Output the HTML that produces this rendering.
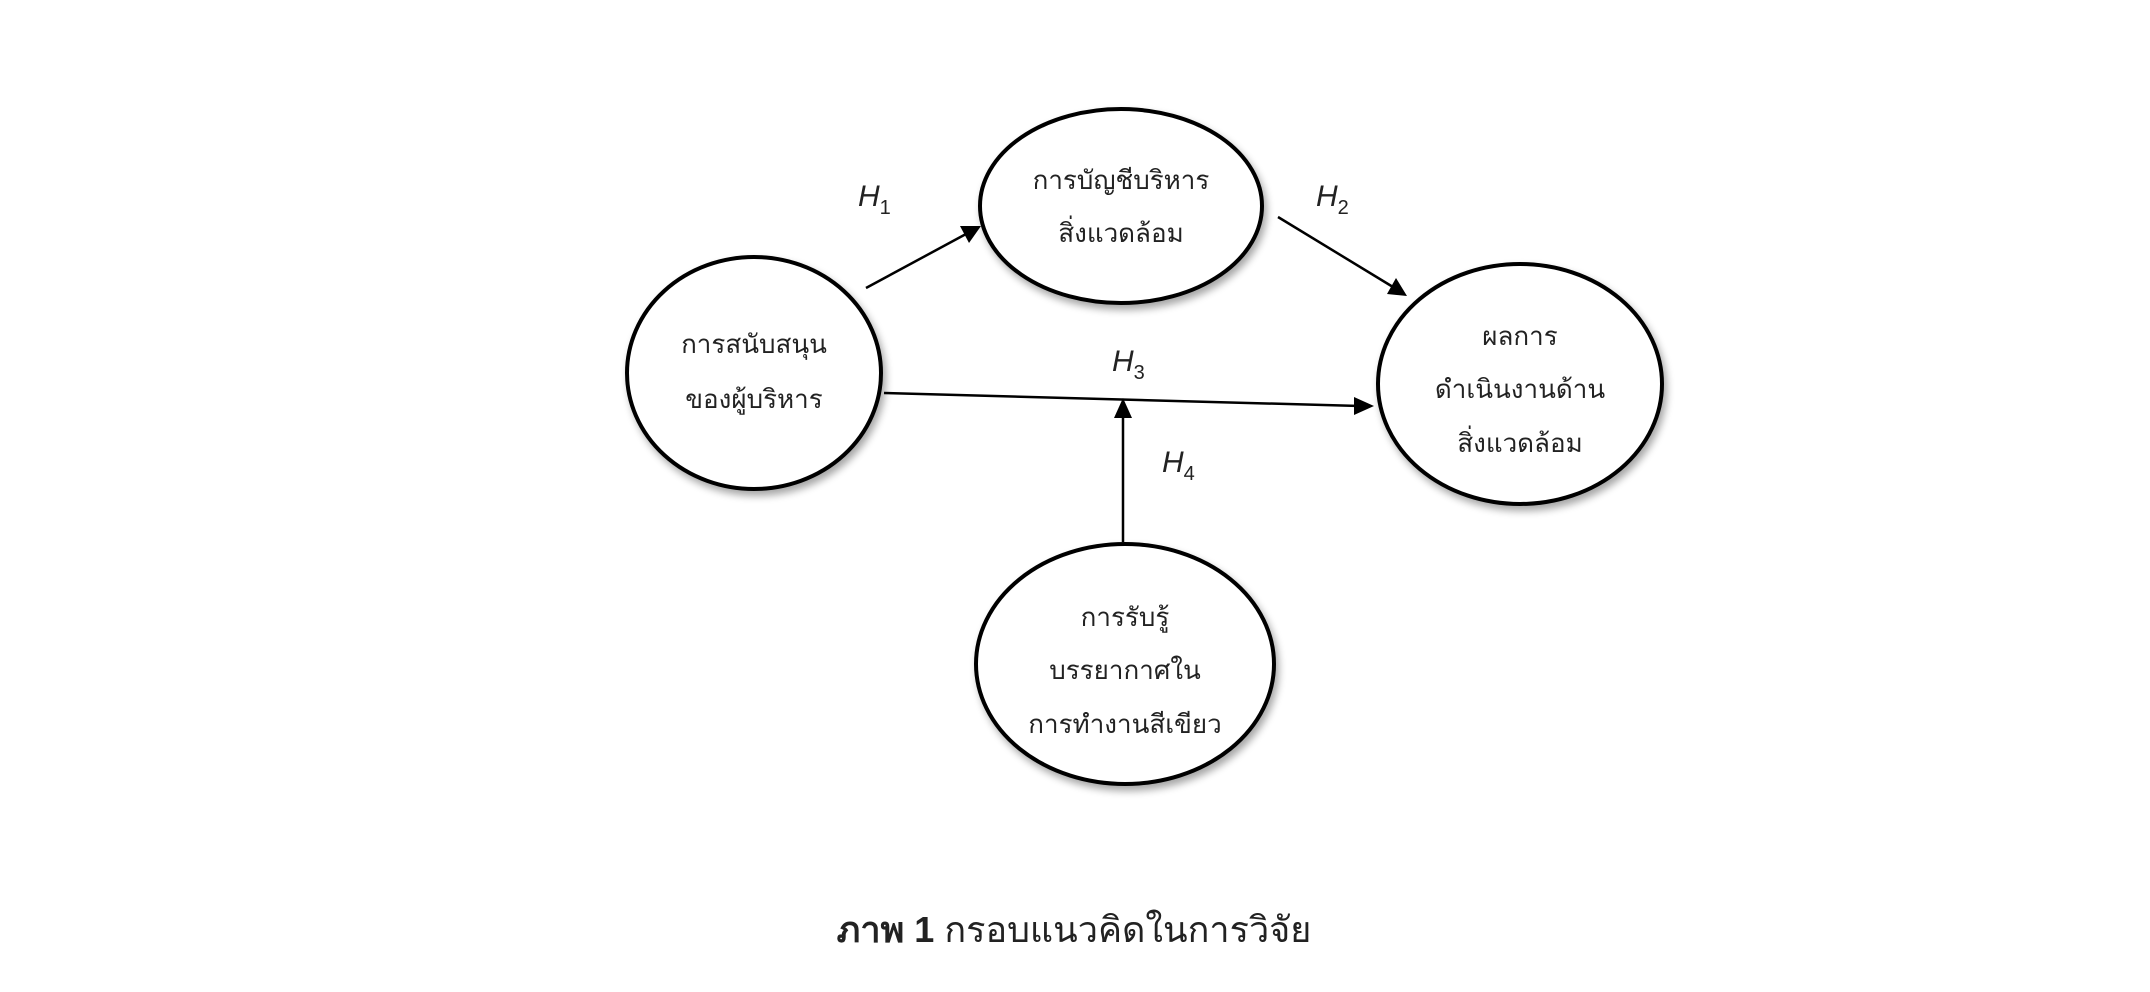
<!DOCTYPE html>
<html><head><meta charset="utf-8"><style>
html,body{margin:0;padding:0;background:#fff;}
svg{display:block;}
text{font-family:"Liberation Sans","Noto Sans CJK SC",sans-serif;fill:#222;}
</style></head><body>
<svg width="2150" height="992" viewBox="0 0 2150 992" xmlns="http://www.w3.org/2000/svg">
<defs>
<filter id="sh" x="-20%" y="-20%" width="140%" height="140%">
<feGaussianBlur in="SourceAlpha" stdDeviation="4"/>
<feOffset dx="3" dy="5" result="b"/>
<feComponentTransfer><feFuncA type="linear" slope="0.35"/></feComponentTransfer>
<feMerge><feMergeNode/><feMergeNode in="SourceGraphic"/></feMerge>
</filter>
</defs>
<g fill="#fff" stroke="#000" stroke-width="4" filter="url(#sh)">
<ellipse cx="754" cy="373" rx="127" ry="116"/>
<ellipse cx="1121" cy="206" rx="141" ry="97"/>
<ellipse cx="1520" cy="384" rx="142" ry="120"/>
<ellipse cx="1125" cy="664" rx="149" ry="120"/>
</g>
<g stroke="#000" stroke-width="2.5" fill="none">
<line x1="866" y1="288" x2="966" y2="234"/>
<line x1="1278" y1="217" x2="1393" y2="287"/>
<line x1="884" y1="393" x2="1360" y2="406"/>
<line x1="1123" y1="542" x2="1123" y2="412"/>
</g>
<g fill="#000">
<path d="M981,226 L960,226 L969,243 z"/>
<path d="M1407,296 L1396,278 L1387,294 z"/>
<path d="M1374,406 L1354,397 L1354,415 z"/>
<path d="M1123,398 L1114,418 L1132,418 z"/>
</g>
<g font-size="30">
<text x="858" y="206"><tspan font-style="italic">H</tspan><tspan font-size="20" dy="8">1</tspan></text>
<text x="1316" y="206"><tspan font-style="italic">H</tspan><tspan font-size="20" dy="8">2</tspan></text>
<text x="1112" y="371"><tspan font-style="italic">H</tspan><tspan font-size="20" dy="8">3</tspan></text>
<text x="1162" y="472"><tspan font-style="italic">H</tspan><tspan font-size="20" dy="8">4</tspan></text>
</g>
<g font-size="26" text-anchor="middle">
<text x="754" y="353">การสนับสนุน</text>
<text x="754" y="408">ของผู้บริหาร</text>
<text x="1121" y="189">การบัญชีบริหาร</text>
<text x="1121" y="242">สิ่งแวดล้อม</text>
<text x="1520" y="345">ผลการ</text>
<text x="1520" y="398">ดำเนินงานด้าน</text>
<text x="1520" y="452">สิ่งแวดล้อม</text>
<text x="1125" y="626">การรับรู้</text>
<text x="1125" y="679">บรรยากาศใน</text>
<text x="1125" y="733">การทำงานสีเขียว</text>
</g>
<text x="1074" y="942" font-size="36" text-anchor="middle"><tspan font-weight="bold">ภาพ 1</tspan> กรอบแนวคิดในการวิจัย</text>
</svg>
</body></html>
